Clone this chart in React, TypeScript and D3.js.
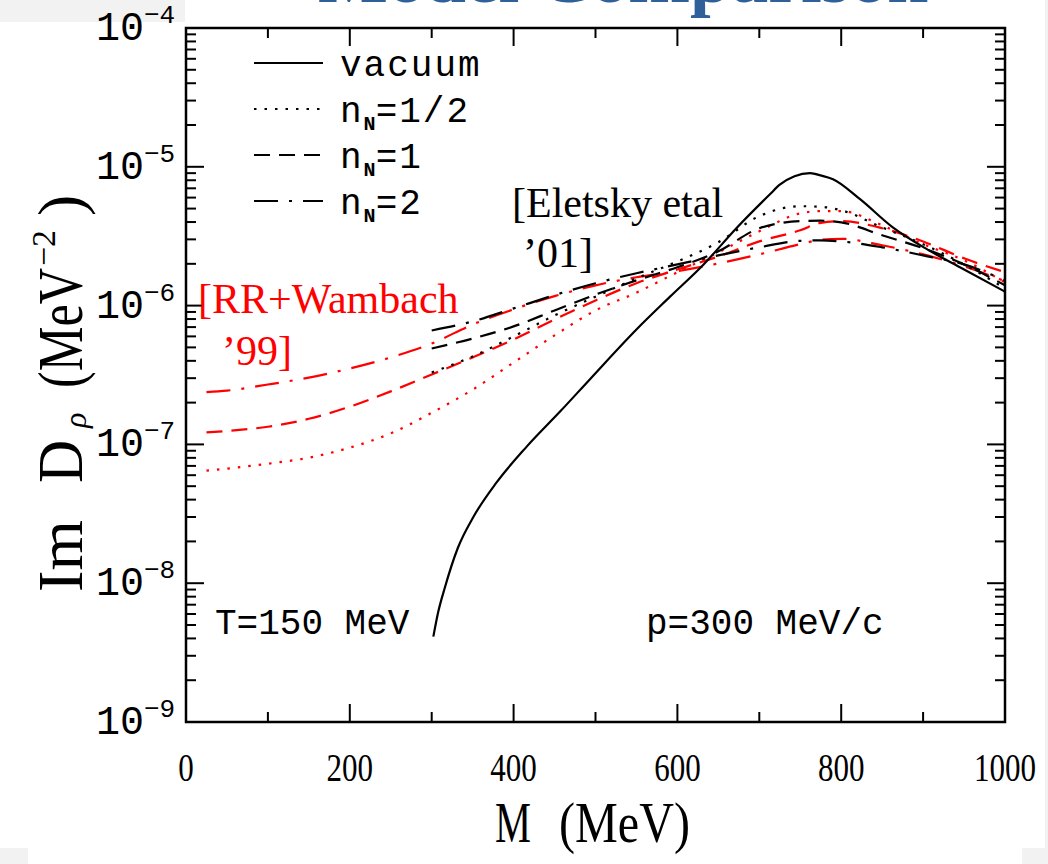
import React from "react";
import * as d3 from "d3";

// ---- data ----
const massRW = [25, 50, 100, 150, 200, 250, 300, 350, 400, 450, 500, 550, 600, 650, 700, 750, 775, 800, 850, 900, 950, 1000];
const rwHalf = [6.47e-8, 6.69e-8, 7.26e-8, 8.02e-8, 9.48e-8, 1.2e-7, 1.69e-7, 2.48e-7, 3.89e-7, 6.1e-7, 9.23e-7, 1.24e-6, 1.74e-6, 2.42e-6, 3.43e-6, 4.62e-6, 4.8e-6, 4.8e-6, 3.79e-6, 2.77e-6, 2.12e-6, 1.47e-6];
const rwOne = [1.22e-7, 1.25e-7, 1.34e-7, 1.53e-7, 1.87e-7, 2.41e-7, 3.19e-7, 4.23e-7, 5.7e-7, 7.94e-7, 1.09e-6, 1.45e-6, 1.82e-6, 2.26e-6, 2.9e-6, 3.49e-6, 3.95e-6, 4.06e-6, 3.61e-6, 2.9e-6, 2.19e-6, 1.74e-6];
const rwTwo = [2.38e-7, 2.44e-7, 2.7e-7, 3.03e-7, 3.52e-7, 4.23e-7, 5.33e-7, 7.31e-7, 9.4e-7, 1.17e-6, 1.4e-6, 1.6e-6, 1.77e-6, 2.01e-6, 2.34e-6, 2.77e-6, 2.98e-6, 3.03e-6, 2.72e-6, 2.34e-6, 1.92e-6, 1.5e-6];

const massEletsky = [300, 350, 400, 450, 500, 550, 600, 650, 700, 750, 775, 800, 850, 900, 950, 1000];
const elHalf = [3.3e-7, 4.3e-7, 6.0e-7, 8.49e-7, 1.16e-6, 1.57e-6, 2.08e-6, 2.86e-6, 4.41e-6, 5.2e-6, 5.15e-6, 4.86e-6, 3.66e-6, 2.77e-6, 1.98e-6, 1.33e-6];
const elOne = [4.91e-7, 5.79e-7, 7.08e-7, 9.23e-7, 1.2e-6, 1.52e-6, 1.89e-6, 2.46e-6, 3.61e-6, 4.06e-6, 4.09e-6, 3.98e-6, 3.21e-6, 2.59e-6, 1.98e-6, 1.4e-6];
const elTwo = [6.62e-7, 7.69e-7, 9.55e-7, 1.19e-6, 1.45e-6, 1.71e-6, 1.98e-6, 2.3e-6, 2.63e-6, 2.93e-6, 2.95e-6, 2.9e-6, 2.63e-6, 2.3e-6, 1.98e-6, 1.52e-6];

const massVacuum = [302, 308, 316, 332, 351, 379, 416, 457, 493, 550, 591, 632, 672, 713, 725, 743, 762, 776, 790, 823, 863, 905, 945, 1000];
const vacuum = [4.12e-9, 6.22e-9, 9.27e-9, 1.8e-8, 3.01e-8, 5.3e-8, 9.64e-8, 1.73e-7, 2.94e-7, 6.73e-7, 1.16e-6, 1.98e-6, 3.61e-6, 6.34e-6, 7.43e-6, 8.55e-6, 8.99e-6, 8.63e-6, 8.14e-6, 5.84e-6, 3.66e-6, 2.54e-6, 1.89e-6, 1.26e-6];

const xMajorTicks = [0, 200, 400, 600, 800, 1000];
const xMinorTicks = [100, 300, 500, 700, 900];
const yDecades = [-9, -8, -7, -6, -5, -4];

const legendItems = [
  { main: "vacuum", sub: "", rest: "", style: "solid" },
  { main: "n", sub: "N", rest: "=1/2", style: "dotted" },
  { main: "n", sub: "N", rest: "=1", style: "dashed" },
  { main: "n", sub: "N", rest: "=2", style: "dashdot" },
];

const dashes: Record<string, string | undefined> = {
  solid: undefined,
  dotted: "2.5 8",
  dashed: "16 9",
  dashdot: "24 11 3 11",
};

const series = [
  { m: massRW, v: rwHalf, color: "#ff0000", style: "dotted" },
  { m: massRW, v: rwOne, color: "#ff0000", style: "dashed" },
  { m: massRW, v: rwTwo, color: "#ff0000", style: "dashdot" },
  { m: massEletsky, v: elHalf, color: "#000", style: "dotted" },
  { m: massEletsky, v: elOne, color: "#000", style: "dashed" },
  { m: massEletsky, v: elTwo, color: "#000", style: "dashdot" },
  { m: massVacuum, v: vacuum, color: "#000", style: "solid" },
];

const L = 186, R = 1005, T = 28, B = 722;

export default function App() {
  const x = d3.scaleLinear().domain([0, 1000]).range([L, R]);
  const y = d3.scaleLog().domain([1e-9, 1e-4]).range([B, T]);
  const line = d3
    .line<[number, number]>()
    .x((d) => x(d[0]))
    .y((d) => y(d[1]))
    .curve(d3.curveMonotoneX);

  const yMinor: number[] = [];
  for (let e = -9; e < -4; e++) for (let k = 2; k <= 9; k++) yMinor.push(k * Math.pow(10, e));

  const mono = "'Liberation Mono', 'DejaVu Sans Mono', monospace";
  const serif = "'Liberation Serif', 'DejaVu Serif', serif";

  return (
    <svg
      width={1048}
      height={864}
      style={{ position: "absolute", left: 0, top: 0, background: "#fff" }}
    >
      <rect x={0} y={0} width={1048} height={864} fill="#fff" />
      <rect x={0} y={0} width={185} height={22} fill="#f2f2f2" />
      <rect x={1045} y={0} width={3} height={864} fill="#f2f2f2" />
      <rect x={1022} y={848} width={26} height={16} fill="#f2f2f2" />
      <rect x={0} y={848} width={28} height={16} fill="#f2f2f2" />

      {/* cut-off title */}
      <text x={318} y={2} fontFamily={serif} fontWeight="bold" fontSize={74} fill="#30609a">
        Model Comparison
      </text>

      {/* curves */}
      <g>
        {series.map((s, i) => (
          <path
            key={i}
            d={line(s.m.map((m, j) => [m, s.v[j]] as [number, number])) || ""}
            fill="none"
            stroke={s.color}
            strokeWidth={2.2}
            strokeDasharray={dashes[s.style]}
          />
        ))}
      </g>

      {/* frame */}
      <rect x={L} y={T} width={R - L} height={B - T} fill="none" stroke="#000" strokeWidth={2.5} />

      {/* x ticks */}
      {xMajorTicks.map((t) => (
        <g key={"xM" + t}>
          <line x1={x(t)} x2={x(t)} y1={B} y2={B - 18} stroke="#000" strokeWidth={2} />
          <line x1={x(t)} x2={x(t)} y1={T} y2={T + 18} stroke="#000" strokeWidth={2} />
          <text
            x={x(t)}
            y={781}
            textAnchor="middle"
            fontFamily={serif}
            fontSize={40}
            textLength={String(t).length * 15.5}
            lengthAdjust="spacingAndGlyphs"
          >
            {t}
          </text>
        </g>
      ))}
      {xMinorTicks.map((t) => (
        <g key={"xm" + t}>
          <line x1={x(t)} x2={x(t)} y1={B} y2={B - 10} stroke="#000" strokeWidth={2} />
          <line x1={x(t)} x2={x(t)} y1={T} y2={T + 10} stroke="#000" strokeWidth={2} />
        </g>
      ))}

      {/* y ticks */}
      {yDecades.map((e) => {
        const yy = y(Math.pow(10, e));
        return (
          <g key={"yM" + e}>
            <line x1={L} x2={L + 18} y1={yy} y2={yy} stroke="#000" strokeWidth={2} />
            <line x1={R} x2={R - 18} y1={yy} y2={yy} stroke="#000" strokeWidth={2} />
            <text x={96} y={yy + 12} fontFamily={mono} fontSize={40}>
              10
              <tspan fontSize={26} dy={-17}>
                {"\u2212" + String(-e)}
              </tspan>
            </text>
          </g>
        );
      })}
      {yMinor.map((v, i) => (
        <g key={"ym" + i}>
          <line x1={L} x2={L + 10} y1={y(v)} y2={y(v)} stroke="#000" strokeWidth={2} />
          <line x1={R} x2={R - 10} y1={y(v)} y2={y(v)} stroke="#000" strokeWidth={2} />
        </g>
      ))}

      {/* axis titles */}
      <text x={495} y={842} fontFamily={serif} fontSize={56} textLength={36} lengthAdjust="spacingAndGlyphs">
        M
      </text>
      <text x={559} y={842} fontFamily={serif} fontSize={56} textLength={131} lengthAdjust="spacingAndGlyphs">
        (MeV)
      </text>
      <g transform="translate(82,0) rotate(-90)" fontFamily={serif}>
        <text x={-592} y={0} fontSize={64} textLength={72} lengthAdjust="spacingAndGlyphs">
          Im
        </text>
        <text x={-483} y={0} fontSize={64} textLength={43} lengthAdjust="spacingAndGlyphs">
          D
        </text>
        <text x={-428} y={4} fontSize={32} fontStyle="italic">
          ρ
        </text>
        <text x={-388} y={0} fontSize={64} textLength={120} lengthAdjust="spacingAndGlyphs">
          (MeV
        </text>
        <text x={-266} y={-27} fontSize={34} textLength={36} lengthAdjust="spacingAndGlyphs">
          {"\u22122"}
        </text>
        <text x={-216} y={0} fontSize={64}>
          )
        </text>
      </g>

      {/* legend */}
      {legendItems.map((it, i) => {
        const ly = 63 + i * 46;
        return (
          <g key={"lg" + i}>
            <line
              x1={254}
              x2={323}
              y1={ly}
              y2={ly}
              stroke="#000"
              strokeWidth={2.2}
              strokeDasharray={dashes[it.style]}
            />
            <text x={340} y={ly + 13} fontFamily={mono} fontSize={36} letterSpacing={2}>
              {it.main}
              {it.sub ? (
                <tspan fontSize={20} fontWeight="bold" dy={8} letterSpacing={0}>
                  {it.sub}
                </tspan>
              ) : null}
              {it.rest ? <tspan dy={-8}>{it.rest}</tspan> : null}
            </text>
          </g>
        );
      })}

      {/* parameter labels */}
      <text x={215} y={634} fontFamily={mono} fontSize={36}>
        T=150 MeV
      </text>
      <text x={646} y={634} fontFamily={mono} fontSize={36}>
        p=300 MeV/c
      </text>

      {/* annotations */}
      <text x={512} y={217} fontFamily={serif} fontSize={42} fill="#000">
        [Eletsky etal
      </text>
      <text x={523} y={267} fontFamily={serif} fontSize={42} fill="#000">
        ’01]
      </text>
      <text x={198} y={313} fontFamily={serif} fontSize={42} fill="#ff0000">
        [RR+Wambach
      </text>
      <text x={222} y={365} fontFamily={serif} fontSize={42} fill="#ff0000">
        ’99]
      </text>
    </svg>
  );
}
